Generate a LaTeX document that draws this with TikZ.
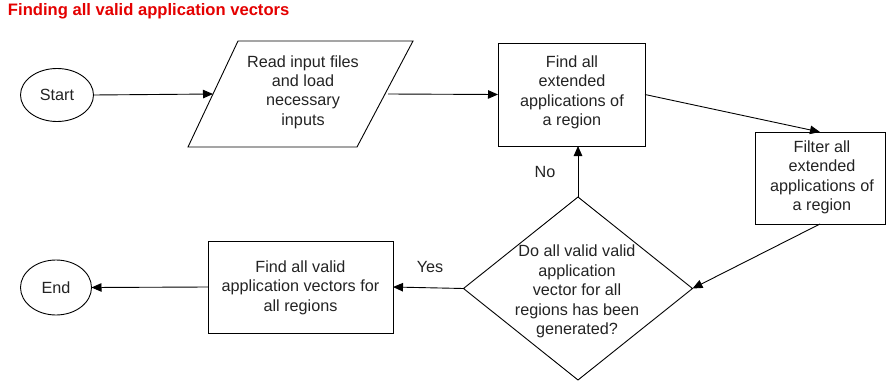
\documentclass[tikz,border=0pt]{standalone}
\usepackage{fontspec}
\setmainfont{Liberation Sans}
\usetikzlibrary{arrows.meta,shapes.geometric}
\definecolor{titlered}{RGB}{228,0,0}
\definecolor{ink}{RGB}{35,35,35}
\begin{document}
\begin{tikzpicture}[x=1pt,y=-1pt,
  every node/.style={inner sep=0pt,outer sep=0pt,text=ink},
  txt/.style={font=\fontsize{16.2}{19.4}\selectfont,align=center},
  shp/.style={draw=black,line width=0.9pt},
  conn/.style={draw=black,line width=0.9pt,-{Triangle[length=10pt,width=8.5pt]}},
  lbl/.style={font=\fontsize{16.2}{19.4}\selectfont}]
\useasboundingbox (0,0) rectangle (886,383);
\node[anchor=base west,font=\fontsize{16.6}{18}\selectfont\bfseries,text=titlered] (title) at (8,15.7) {Finding all valid application vectors};
\node[shp,ellipse,minimum width=73pt,minimum height=53pt,txt] (start) at (57,95) {Start};
% parallelogram
\coordinate (rTL) at (238,41);
\coordinate (rTR) at (413,41);
\coordinate (rBR) at (357,147);
\coordinate (rBL) at (188,147);
\coordinate (readW) at (213,94);
\coordinate (readE) at (388,94);
\draw[shp,line join=miter] (rTL) -- (rTR) -- (rBR) -- (rBL) -- cycle;
\node[txt] (read) at (303,92) {Read input files\\and load\\necessary\\inputs};
\node[shp,rectangle,minimum width=147pt,minimum height=103pt] (find) at (571.5,94.5) {};
\node[txt] (findt) at (572,92.5) {Find all\\extended\\applications of\\a region};
\node[shp,rectangle,minimum width=130pt,minimum height=92pt] (filter) at (820,178) {};
\node[txt] (filtert) at (822,177.5) {Filter all\\extended\\applications of\\a region};
\node[shp,diamond,minimum width=229pt,minimum height=183pt] (dia) at (578,288.5) {};
\node[txt] (diat) at (577,291.5) {Do all valid valid\\application\\vector for all\\regions has been\\generated?};
\node[shp,rectangle,minimum width=185pt,minimum height=92pt] (valid) at (300.5,287) {};
\node[txt] (validt) at (300.5,287.5) {Find all valid\\application vectors for\\all regions};
\node[shp,ellipse,minimum width=71pt,minimum height=55pt,txt] (end) at (56,287.5) {End};
\node[lbl] (no) at (545,172) {No};
\node[lbl] (yes) at (430,267) {Yes};
\draw[conn] (start.east) -- (readW);
\draw[conn] (readE) -- (find.west);
\draw[conn] (find.east) -- (filter.north);
\draw[conn] (filter.south) -- (dia.east);
\draw[conn] (dia.north) -- (dia.north |- find.south);
\draw[conn] (dia.west) -- (valid.east);
\draw[conn] (valid.west) -- (end.east);
\end{tikzpicture}
\end{document}
